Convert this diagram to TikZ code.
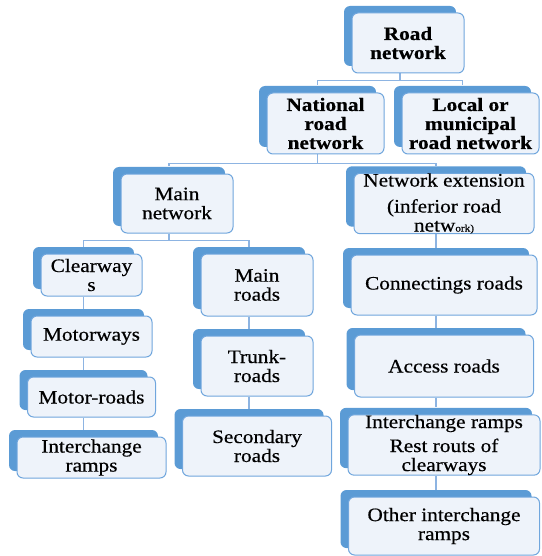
\documentclass[tikz,border=0pt]{standalone}
\usepackage{fontspec}
\setmainfont{Liberation Serif}[FakeStretch=1.12, FakeBold=0.5]
\usetikzlibrary{shadows,backgrounds}
\definecolor{boxblue}{RGB}{91,155,213}
\definecolor{boxfill}{RGB}{238,243,250}
\definecolor{boxline}{RGB}{112,166,221}
\definecolor{linkblue}{RGB}{141,180,226}
\tikzset{
	box/.style={draw=boxline, line width=1pt, fill=boxfill, rounded corners=6pt, align=center, inner sep=0pt,
		font=\fontsize{19}{19}\selectfont,
		general shadow={fill=boxblue, shadow xshift=-8pt, shadow yshift=7pt}},
	topbox/.style={box, font=\fontsize{19}{19}\selectfont\bfseries},
	wh/.style 2 args={minimum width=#1pt, minimum height=#2pt},
	link/.style={draw=linkblue, line width=1.2pt},
}
\begin{document}
\begin{tikzpicture}[x=1pt,y=-1pt]
		\useasboundingbox (0,0) rectangle (541,556);
		\node[topbox, wh={112}{60}] (road) at (408,43) {Road\\network};
		\node[topbox, wh={117}{61}] (nat) at (325.5,123.5) {National\\road\\network};
		\node[topbox, wh={137}{61}] (loc) at (470.5,123.5) {Local or\\municipal\\road network};
		\node[box, wh={112}{59}] (main) at (177,203.5) {Main\\network};
		\node[box, wh={180}{59}] (ext) at (444,203.5) {Network extension\\[7pt](inferior road\\netw{\fontsize{10}{10}\selectfont ork)}};
		\node[box, wh={101}{42}] (clr) at (91.5,275) {Clearway\\s};
		\node[box, wh={121}{41}] (mot) at (91.5,336.5) {Motorways};
		\node[box, wh={128}{40}] (mro) at (91.5,397) {Motor-roads};
		\node[box, wh={149}{41}] (icl) at (91.5,457.5) {Interchange\\ramps};
		\node[box, wh={112}{62}] (mrd) at (257,285) {Main\\roads};
		\node[box, wh={112}{60}] (trk) at (257,366) {Trunk-\\roads};
		\node[box, wh={149}{60}] (sec) at (257,446) {Secondary\\roads};
		\node[box, wh={186}{60}] (con) at (444,285) {Connectings roads};
		\node[box, wh={179}{62}] (acc) at (444,366) {Access roads};
		\node[box, wh={192}{60}] (icr) at (444,445) {Interchange ramps\\[5pt]Rest routs of\\clearways};
		\node[box, wh={191}{58}] (oth) at (444,526) {Other interchange\\ramps};
		\begin{pgfonlayer}{background}
			\draw[link] ([xshift=-8pt]road.south) -- ++(0,7) -| ([xshift=-8pt,yshift=7pt]nat.north);
			\draw[link] ([xshift=-8pt]road.south) -- ++(0,7) -| ([xshift=-8pt,yshift=7pt]loc.north);
			\draw[link] ([xshift=-8pt]nat.south) -- ++(0,9) -| ([xshift=-8pt,yshift=7pt]main.north);
			\draw[link] ([xshift=-8pt]nat.south) -- ++(0,9) -| ([xshift=-8pt,yshift=7pt]ext.north);
			\draw[link] ([xshift=-8pt]main.south) -- ++(0,7) -| ([xshift=-8pt,yshift=7pt]clr.north);
			\draw[link] ([xshift=-8pt]main.south) -- ++(0,7) -| ([xshift=-8pt,yshift=7pt]mrd.north);
			\draw[link] ([xshift=-8pt]clr.south) -- ([xshift=-8pt,yshift=7pt]mot.north);
			\draw[link] ([xshift=-8pt]mot.south) -- ([xshift=-8pt,yshift=7pt]mro.north);
			\draw[link] ([xshift=-8pt]mro.south) -- ([xshift=-8pt,yshift=7pt]icl.north);
			\draw[link] ([xshift=-8pt]mrd.south) -- ([xshift=-8pt,yshift=7pt]trk.north);
			\draw[link] ([xshift=-8pt]trk.south) -- ([xshift=-8pt,yshift=7pt]sec.north);
			\draw[link] ([xshift=-8pt]ext.south) -- ([xshift=-8pt,yshift=7pt]con.north);
			\draw[link] ([xshift=-8pt]con.south) -- ([xshift=-8pt,yshift=7pt]acc.north);
			\draw[link] ([xshift=-8pt]acc.south) -- ([xshift=-8pt,yshift=7pt]icr.north);
			\draw[link] ([xshift=-8pt]icr.south) -- ([xshift=-8pt,yshift=7pt]oth.north);
		\end{pgfonlayer}
	\end{tikzpicture}
\end{document}
